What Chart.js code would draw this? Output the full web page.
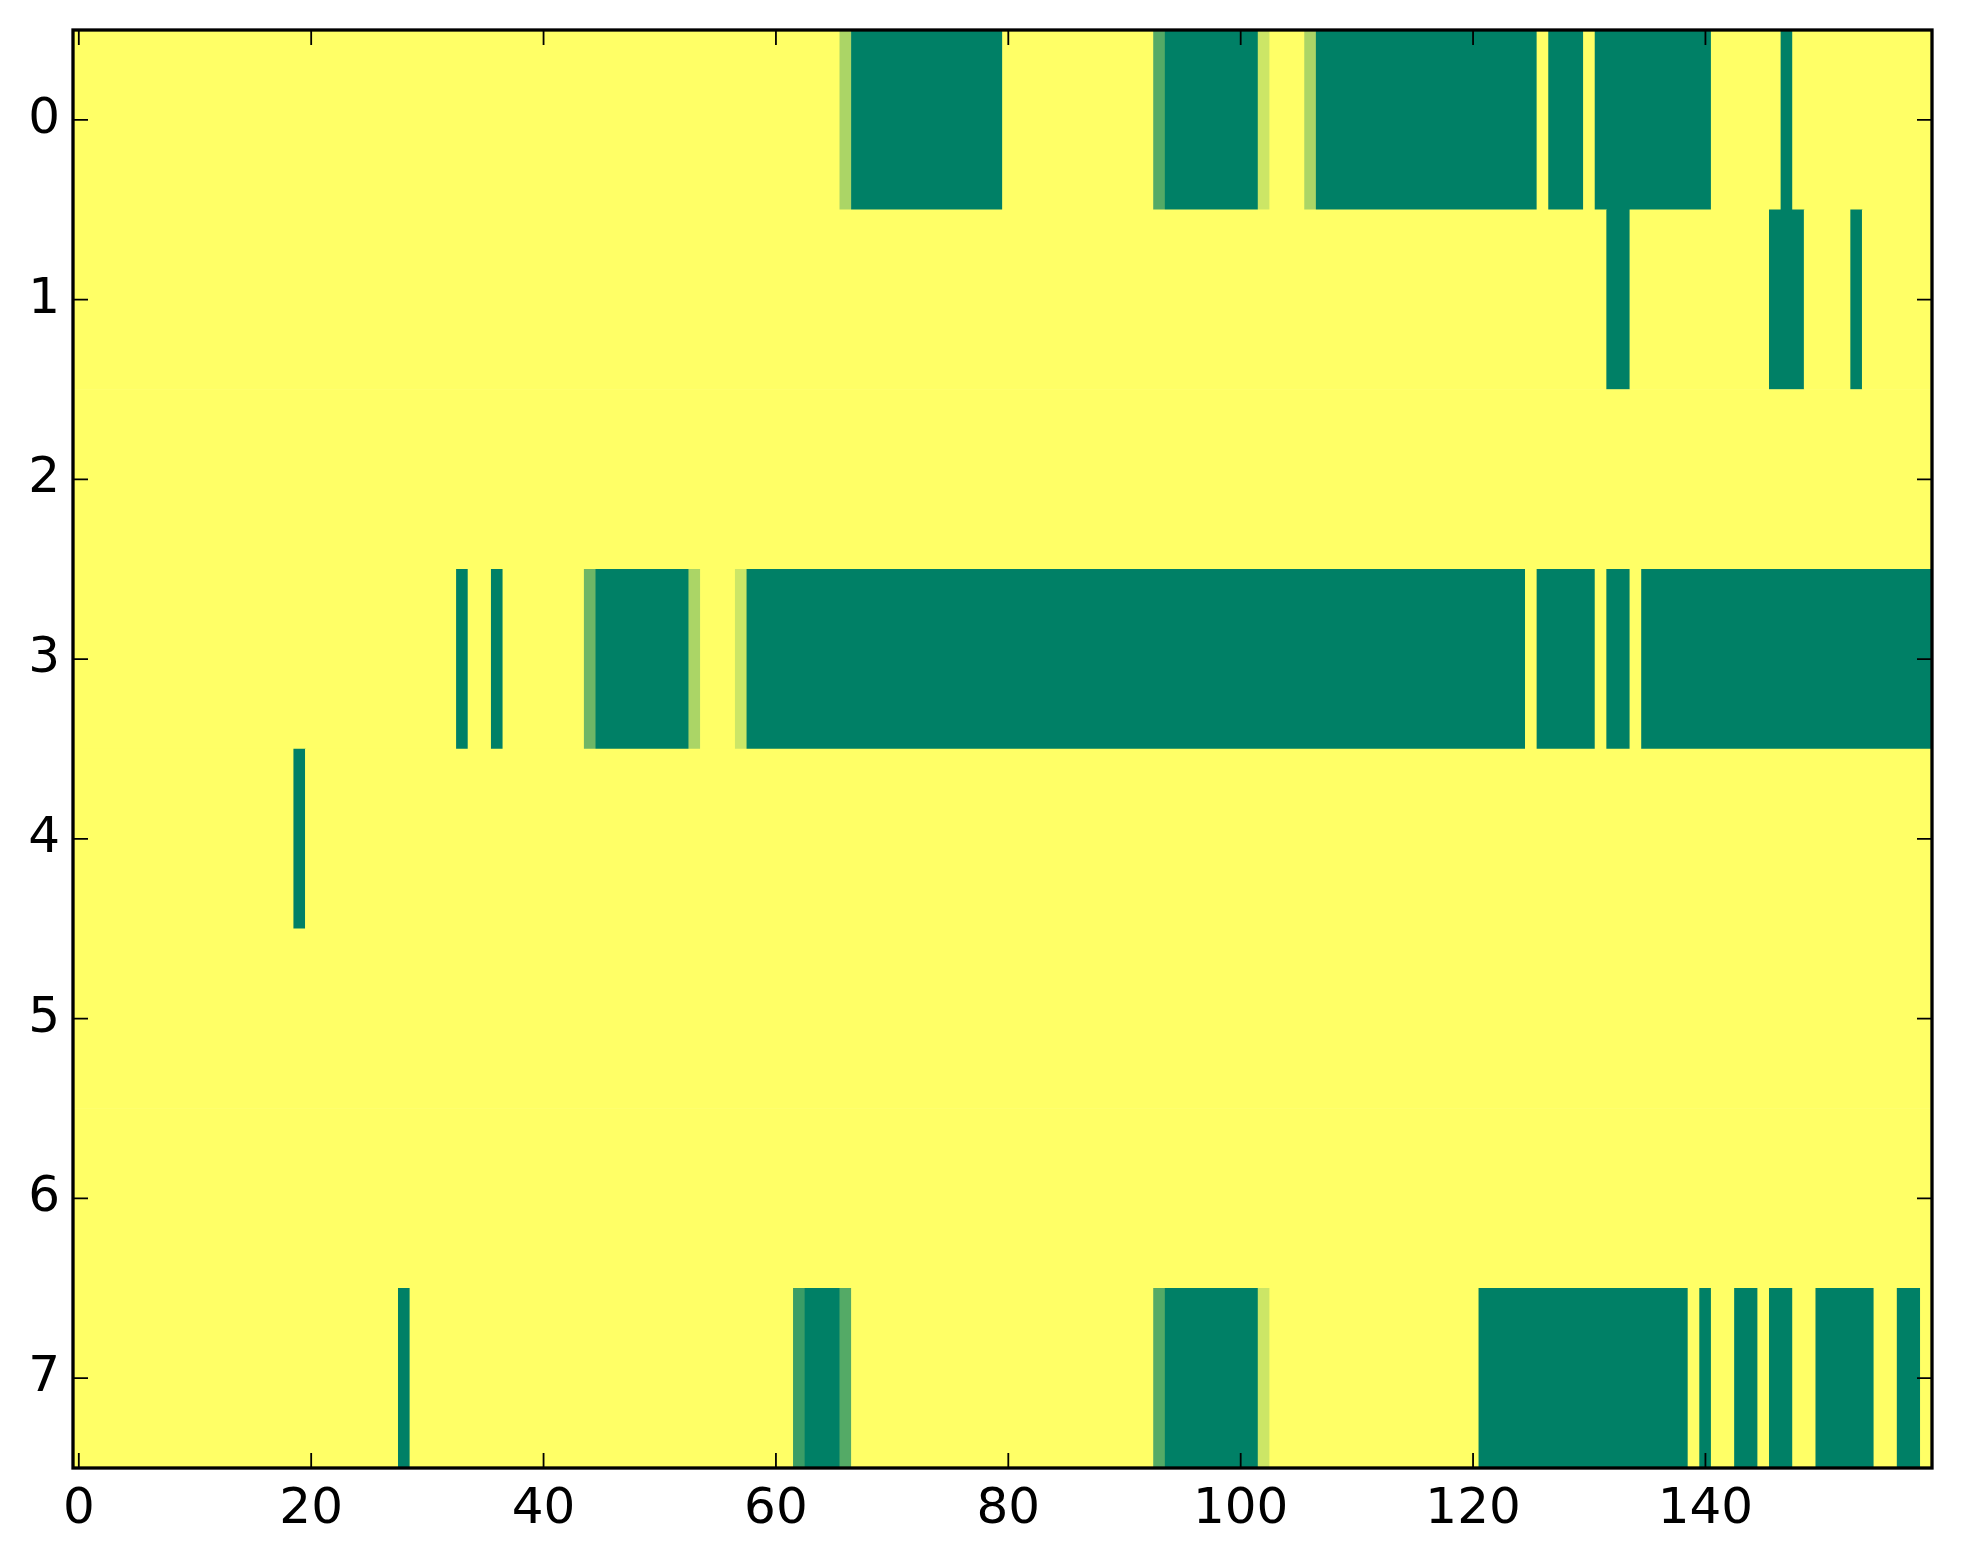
<!DOCTYPE html>
<html>
<head>
<meta charset="utf-8">
<script src="https://cdn.jsdelivr.net/npm/chart.js@4.4.1/dist/chart.umd.min.js"></script>
<style>
    html, body { margin: 0; padding: 0; background: #fff; }
    #wrap { width: 1963px; height: 1564px; }
</style>
</head>
<body>
<div id="wrap"><canvas id="canvas"></canvas></div>
<script>
const rowLabels = ['0', '1', '2', '3', '4', '5', '6', '7'];
const columnCount = 160;
const xTickValues = [0, 20, 40, 60, 80, 100, 120, 140];

// non-zero cells of each row: [firstColumn, lastColumn, value]
const row0 = [[66, 66, 0.33], [67, 79, 1], [93, 93, 0.67], [94, 101, 1], [102, 102, 0.2], [106, 106, 0.33],
    [107, 125, 1], [127, 129, 1], [131, 140, 1], [147, 147, 1]];
const row1 = [[132, 133, 1], [146, 148, 1], [153, 153, 1]];
const row2 = [];
const row3 = [[33, 33, 1], [36, 36, 1], [44, 44, 0.57], [45, 52, 1], [53, 53, 0.33], [57, 57, 0.2],
    [58, 124, 1], [126, 130, 1], [132, 133, 1], [135, 159, 1]];
const row4 = [[19, 19, 1]];
const row5 = [];
const row6 = [];
const row7 = [[28, 28, 1], [62, 62, 0.77], [63, 65, 1], [66, 66, 0.67], [93, 93, 0.67], [94, 101, 1],
    [102, 102, 0.2], [121, 138, 1], [140, 140, 1], [143, 144, 1], [146, 147, 1], [150, 154, 1], [157, 158, 1]];

const rows = [row0, row1, row2, row3, row4, row5, row6, row7];

// full grid of values, 0 everywhere else
const grid = rows.map(spans => {
    const cells = new Array(columnCount).fill(0);
    spans.forEach(([from, to, v]) => {
        for (let c = from; c <= to; c++) cells[c] = v;
    });
    return cells;
});

// neighbouring cells with the same value are drawn as one bar (no seams)
const cellBars = [];
grid.forEach((cells, r) => {
    let start = 0;
    for (let c = 1; c <= columnCount; c++) {
        if (c === columnCount || cells[c] !== cells[start]) {
            cellBars.push({y: rowLabels[r], x: [start - 0.5, c - 0.5], v: cells[start]});
            start = c;
        }
    }
});

// matplotlib 'summer_r'
function summerR(v) {
    const r = Math.round(255 * (1 - v));
    const g = Math.round(255 * (1 - v / 2));
    return 'rgb(' + r + ',' + g + ',102)';
}

const tickFont = {family: 'DejaVu Sans', size: 50};

const frameAndTicks = {
    id: 'frameAndTicks',
    afterDatasetsDraw(chart) {
        const {ctx, chartArea: a} = chart;
        const x = chart.scales.x;
        const y = chart.scales.y;
        const len = 15;
        ctx.save();
        ctx.strokeStyle = '#000';
        ctx.lineWidth = 1.8;
        ctx.beginPath();
        xTickValues.forEach(v => {
            const px = x.getPixelForValue(v);
            ctx.moveTo(px, a.bottom);
            ctx.lineTo(px, a.bottom - len);
            ctx.moveTo(px, a.top);
            ctx.lineTo(px, a.top + len);
        });
        rowLabels.forEach((label, i) => {
            const py = y.getPixelForValue(i);
            ctx.moveTo(a.left, py);
            ctx.lineTo(a.left + len, py);
            ctx.moveTo(a.right, py);
            ctx.lineTo(a.right - len, py);
        });
        ctx.stroke();
        ctx.lineWidth = 3.3;
        ctx.strokeRect(a.left, a.top, a.right - a.left, a.bottom - a.top);
        ctx.restore();
    }
};

const ctx = document.getElementById('canvas');
new Chart(ctx, {
    type: 'bar',
    data: {
        labels: rowLabels,
        datasets: [{
            data: cellBars,
            backgroundColor: c => c.raw ? summerR(c.raw.v) : summerR(0),
            borderWidth: 0,
            barPercentage: 1,
            categoryPercentage: 1,
            grouped: false,
        }],
    },
    options: {
        indexAxis: 'y',
        responsive: true,
        maintainAspectRatio: false,
        animation: false,
        devicePixelRatio: 1,
        layout: {padding: {top: 30, right: 31, left: 0, bottom: 0}},
        plugins: {
            legend: {display: false},
            tooltip: {enabled: false},
        },
        scales: {
            x: {
                type: 'linear',
                min: -0.5,
                max: columnCount - 0.5,
                grid: {display: false, drawTicks: false},
                border: {display: false},
                afterBuildTicks: s => { s.ticks = xTickValues.map(v => ({value: v})); },
                afterFit: s => {
                    s.height = 96;
                    s.paddingLeft = 0;
                    s.paddingRight = 0;
                },
                ticks: {color: '#000', font: tickFont, padding: 12, maxRotation: 0, autoSkip: false},
            },
            y: {
                type: 'category',
                offset: true,
                grid: {display: false, drawTicks: false},
                border: {display: false},
                afterFit: s => {
                    s.width = 73;
                    s.paddingTop = 0;
                    s.paddingBottom = 0;
                },
                ticks: {color: '#000', font: tickFont, padding: 13},
            },
        },
    },
    plugins: [frameAndTicks],
});
</script>
</body>
</html>
